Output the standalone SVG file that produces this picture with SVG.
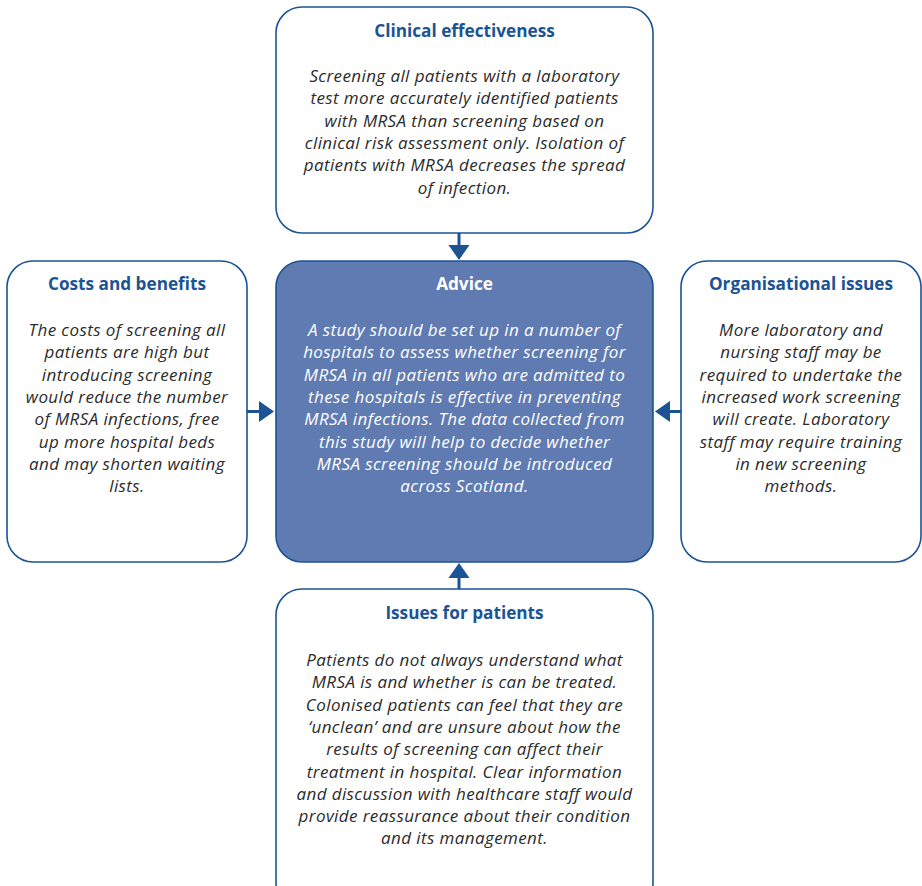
<svg xmlns="http://www.w3.org/2000/svg" width="922" height="886" viewBox="0 0 922 886">
  <style>
    .box { fill: #ffffff; stroke: #1b5394; stroke-width: 1.6; }
    .core { fill: #5f7bb1; stroke: #1b5394; stroke-width: 1.6; }
    .title { font-family: "Open Sans", "Liberation Sans", sans-serif; font-weight: bold; font-size: 17.2px; fill: #1b5394; text-anchor: middle; }
    .title.w { fill: #ffffff; }
    .body { font-family: "Open Sans", "Liberation Sans", sans-serif; font-style: italic; font-size: 17px; letter-spacing: 0.4px; fill: #2b2b2b; text-anchor: middle; }
    .body.w { fill: #ffffff; }
    .conn { stroke: #1b5394; stroke-width: 3; fill: none; }
    .head { fill: #1b5394; }
  </style>

  <g id="clinical-effectiveness">
    <rect class="box" x="276" y="7" width="377" height="226" rx="26"/>
    <text class="title" x="464.5" y="37">Clinical effectiveness</text>
    <text class="body" x="464.5" y="82">Screening all patients with a laboratory</text>
    <text class="body" x="464.5" y="104.3">test more accurately identified patients</text>
    <text class="body" x="464.5" y="126.6">with MRSA than screening based on</text>
    <text class="body" x="464.5" y="148.9">clinical risk assessment only. Isolation of</text>
    <text class="body" x="464.5" y="171.2">patients with MRSA decreases the spread</text>
    <text class="body" x="464.5" y="193.5">of infection.</text>
  </g>

  <g id="costs-and-benefits">
    <rect class="box" x="7" y="261" width="240" height="301" rx="26"/>
    <text class="title" x="127" y="290">Costs and benefits</text>
    <text class="body" x="127" y="336">The costs of screening all</text>
    <text class="body" x="127" y="358.3">patients are high but</text>
    <text class="body" x="127" y="380.6">introducing screening</text>
    <text class="body" x="127" y="402.9">would reduce the number</text>
    <text class="body" x="127" y="425.2">of MRSA infections, free</text>
    <text class="body" x="127" y="447.5">up more hospital beds</text>
    <text class="body" x="127" y="469.8">and may shorten waiting</text>
    <text class="body" x="127" y="492.1">lists.</text>
  </g>

  <g id="advice">
    <rect class="core" x="276" y="261" width="377" height="301" rx="26"/>
    <text class="title w" x="464.5" y="290">Advice</text>
    <text class="body w" x="464.5" y="336">A study should be set up in a number of</text>
    <text class="body w" x="464.5" y="358.3">hospitals to assess whether screening for</text>
    <text class="body w" x="464.5" y="380.6">MRSA in all patients who are admitted to</text>
    <text class="body w" x="464.5" y="402.9">these hospitals is effective in preventing</text>
    <text class="body w" x="464.5" y="425.2">MRSA infections. The data collected from</text>
    <text class="body w" x="464.5" y="447.5">this study will help to decide whether</text>
    <text class="body w" x="464.5" y="469.8">MRSA screening should be introduced</text>
    <text class="body w" x="464.5" y="492.1">across Scotland.</text>
  </g>

  <g id="organisational-issues">
    <rect class="box" x="681" y="261" width="240" height="301" rx="26"/>
    <text class="title" x="801" y="290">Organisational issues</text>
    <text class="body" x="801" y="336">More laboratory and</text>
    <text class="body" x="801" y="358.3">nursing staff may be</text>
    <text class="body" x="801" y="380.6">required to undertake the</text>
    <text class="body" x="801" y="402.9">increased work screening</text>
    <text class="body" x="801" y="425.2">will create. Laboratory</text>
    <text class="body" x="801" y="447.5">staff may require training</text>
    <text class="body" x="801" y="469.8">in new screening</text>
    <text class="body" x="801" y="492.1">methods.</text>
  </g>

  <g id="issues-for-patients">
    <rect class="box" x="276" y="589" width="377" height="320" rx="26"/>
    <text class="title" x="464.5" y="619">Issues for patients</text>
    <text class="body" x="464.5" y="666">Patients do not always understand what</text>
    <text class="body" x="464.5" y="688.3">MRSA is and whether is can be treated.</text>
    <text class="body" x="464.5" y="710.6">Colonised patients can feel that they are</text>
    <text class="body" x="464.5" y="732.9">‘unclean’ and are unsure about how the</text>
    <text class="body" x="464.5" y="755.2">results of screening can affect their</text>
    <text class="body" x="464.5" y="777.5">treatment in hospital. Clear information</text>
    <text class="body" x="464.5" y="799.8">and discussion with healthcare staff would</text>
    <text class="body" x="464.5" y="822.1">provide reassurance about their condition</text>
    <text class="body" x="464.5" y="844.4">and its management.</text>
  </g>

  <g id="connectors">
    <line class="conn" x1="459" y1="233" x2="459" y2="248"/>
    <polygon class="head" points="448.5,245 469.5,245 459,260"/>
    <line class="conn" x1="247" y1="411.5" x2="262" y2="411.5"/>
    <polygon class="head" points="259,401 259,422 274,411.5"/>
    <line class="conn" x1="681" y1="411.5" x2="667" y2="411.5"/>
    <polygon class="head" points="670,401 670,422 655,411.5"/>
    <line class="conn" x1="459" y1="589" x2="459" y2="575"/>
    <polygon class="head" points="448.5,578 469.5,578 459,563"/>
  </g>
</svg>
